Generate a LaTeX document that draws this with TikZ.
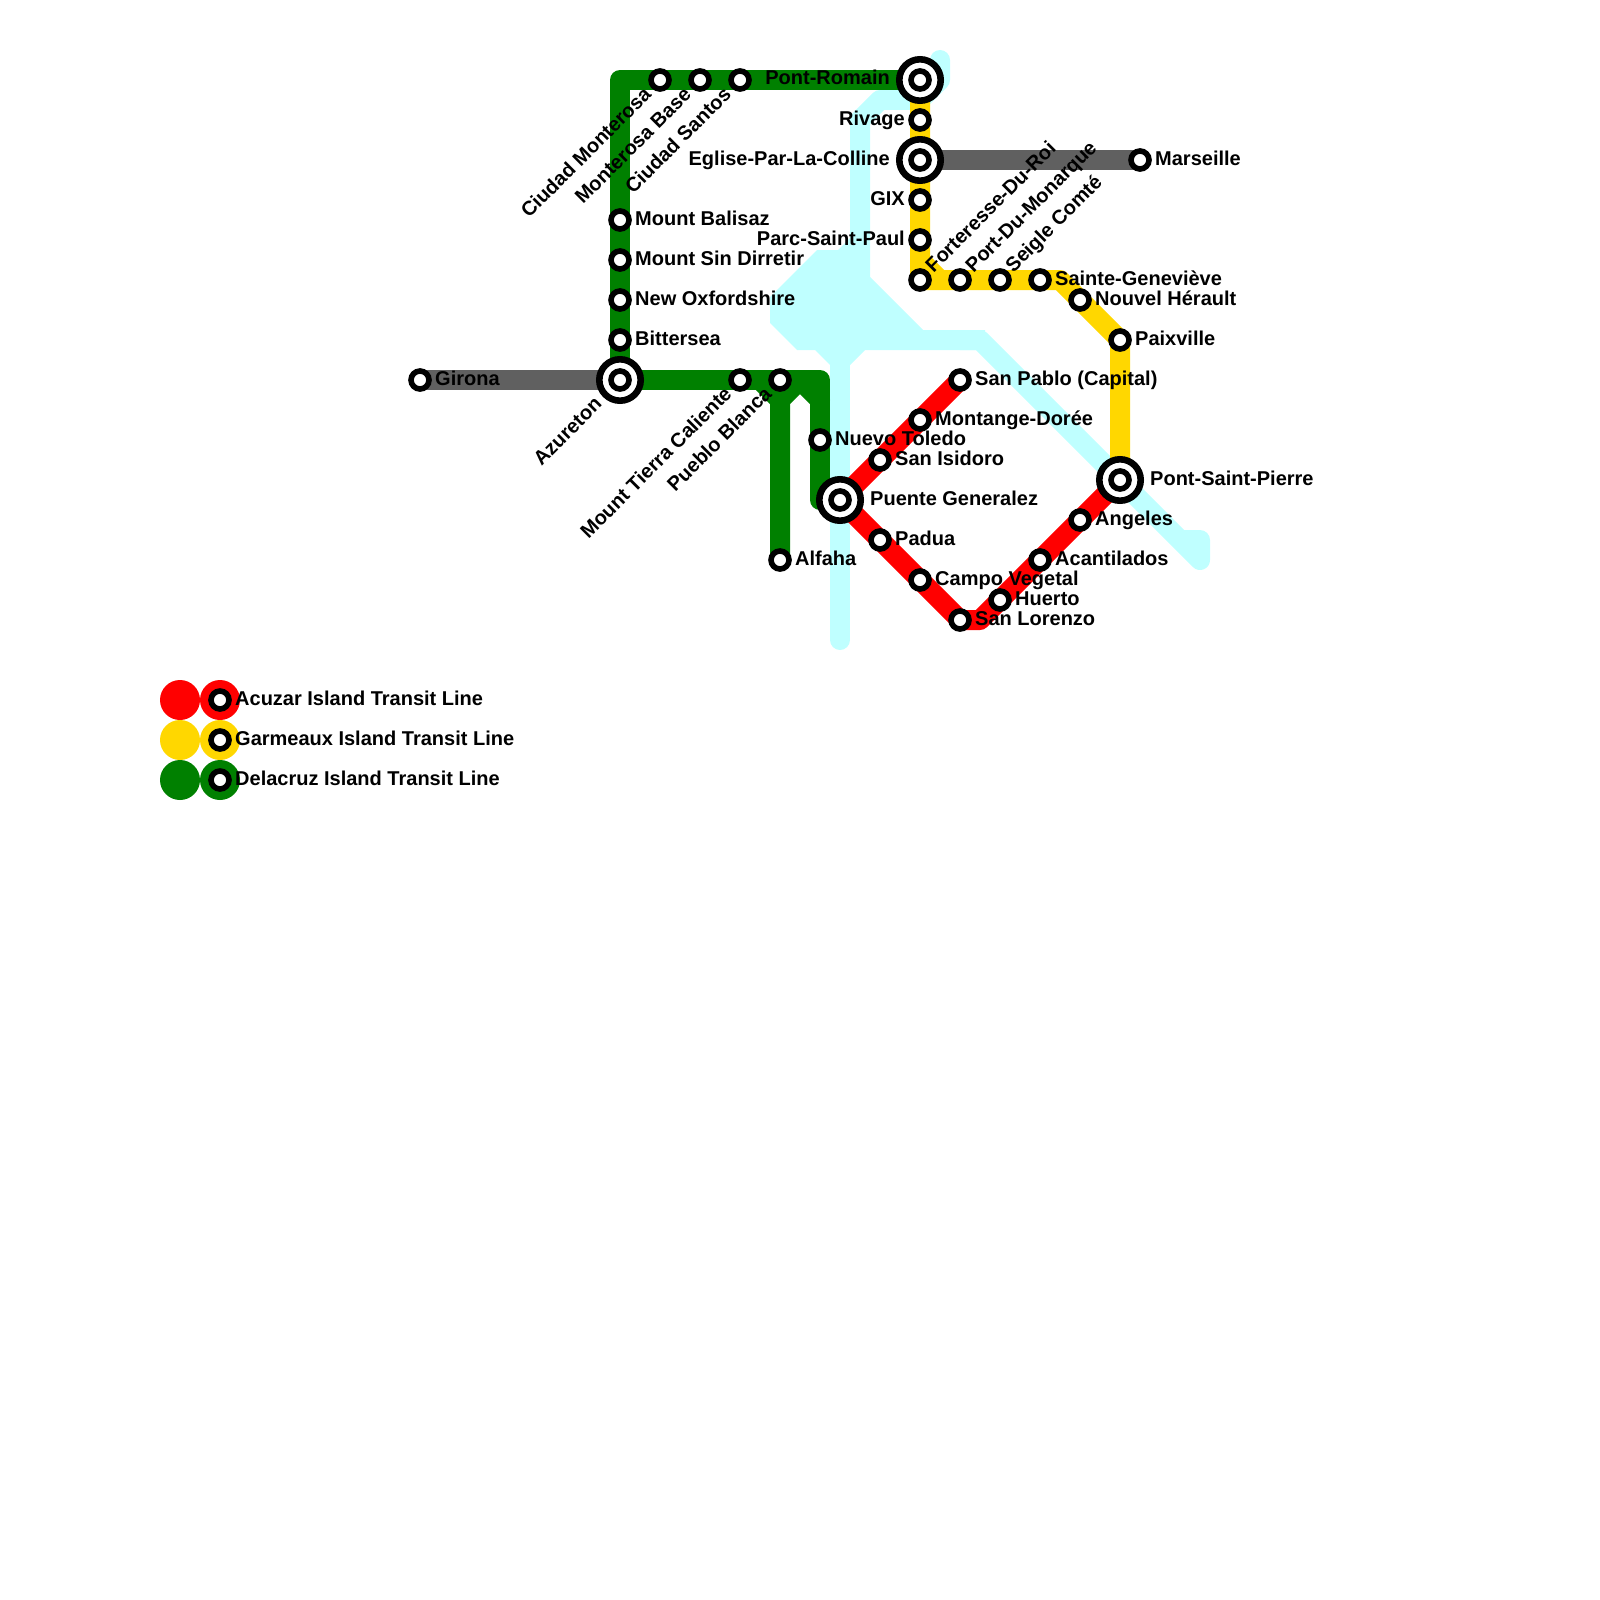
\documentclass[tikz,border=0pt]{standalone}
\usepackage{fontspec}
\setmainfont{Liberation Sans}
\definecolor{river}{HTML}{BFFFFF}
\definecolor{lred}{HTML}{FF0000}
\definecolor{lyellow}{HTML}{FFD700}
\definecolor{lgreen}{HTML}{008000}
\definecolor{lgray}{HTML}{606060}
\tikzset{
  metro/.style={line width=20pt,line join=round,line cap=round},
  riverline/.style={metro,draw=river},
  stn/.style={circle,draw=black,fill=white,line width=5.6pt,minimum size=18pt,inner sep=0pt,outer sep=0pt},
  hub/.style={circle,draw=black,fill=white,line width=6.6pt,minimum size=41.4pt,inner sep=0pt,outer sep=0pt},
  lab/.style={font=\fontsize{20}{20}\selectfont\bfseries,inner sep=0pt,text=black},
  labr/.style={lab,anchor=base west},
  labl/.style={lab,anchor=base east},
  labup/.style={lab,anchor=base west,rotate=45},
  labdn/.style={lab,anchor=base east,rotate=45},
  dot/.style={circle,minimum size=40pt,inner sep=0pt,outer sep=0pt},
}
\newcommand\stnat[3]{\node[stn] (#1) at (#2,#3) {};}
\newcommand\hubat[3]{\node[hub] (#1) at (#2,#3) {}; \node[stn] (#1i) at (#2,#3) {};}
\begin{document}
\begin{tikzpicture}[x=1pt,y=-1pt]
\useasboundingbox (0,0) rectangle (1600,1600);
% river
\fill[river] (817,250) -- (838,250) -- (850,238) -- (870,277) -- (923,330) -- (985,330) -- (985,350) -- (865,350) -- (850,365) -- (830,365) -- (815,350) -- (797,350) -- (770,323) -- (770,297) -- cycle;
\draw[riverline] (940,60) -- (940,80) -- (920,100) -- (880,100) -- (860,120) -- (860,280);
\draw[riverline] (840,350) -- (840,640);
\draw[riverline] (960,340) -- (980,340) -- (1180,540) -- (1200,540) -- (1200,560) -- (1180,540);
% bend points of the lines
\coordinate (g1) at (620,80);
\coordinate (g2) at (820,380);
\coordinate (g3) at (820,500);
\coordinate (g4) at (800,380);
\coordinate (g5) at (820,400);
\coordinate (g6) at (780,400);
\coordinate (y1) at (920,260);
\coordinate (y2) at (940,280);
\coordinate (y3) at (1060,280);
\coordinate (r1) at (980,620);
\coordinate (cPR) at (920,80);
\coordinate (cEG) at (920,160);
\coordinate (cFO) at (920,280);
\coordinate (cPA) at (1120,340);
\coordinate (cPSP) at (1120,480);
\coordinate (cMA) at (1140,160);
\coordinate (cSP) at (960,380);
\coordinate (cPG) at (840,500);
\coordinate (cSL) at (960,620);
\coordinate (cAZ) at (620,380);
\coordinate (cGI) at (420,380);
\coordinate (cPB2) at (760,380);
\coordinate (cAL) at (780,560);
% lines
\draw[metro,lgray] (cGI) -- (cAZ);
\draw[metro,lgray] (cEG) -- (cMA);
\draw[metro,lgreen] (cAZ) -- (g1) -- (cPR);
\draw[metro,lgreen] (cAZ) -- (g2) -- (g3) -- (cPG);
\draw[metro,lgreen] (g4) -- (g6) -- (cAL);
\draw[metro,lgreen] (cPB2) -- (g6);
\draw[metro,lgreen] (g4) -- (g5);
\draw[metro,lyellow] (cPR) -- (cFO) -- (y3) -- (cPA) -- (cPSP);
\draw[metro,lyellow] (y1) -- (y2);
\draw[metro,lred] (cSP) -- (cPG) -- (cSL) -- (r1) -- (cPSP);
% legend swatches
\node[dot,fill=lred] (k1) at (180,700) {};
\node[dot,fill=lred] (k1b) at (220,700) {};
\node[dot,fill=lyellow] (k2) at (180,740) {};
\node[dot,fill=lyellow] (k2b) at (220,740) {};
\node[dot,fill=lgreen] (k3) at (180,780) {};
\node[dot,fill=lgreen] (k3b) at (220,780) {};
\stnat{k1s}{220}{700}\stnat{k2s}{220}{740}\stnat{k3s}{220}{780}
% stations
\hubat{PontRomain}{920}{80}
\stnat{Rivage}{920}{120}
\hubat{Eglise}{920}{160}
\stnat{GIX}{920}{200}
\stnat{ParcSP}{920}{240}
\stnat{Forteresse}{920}{280}
\stnat{PortM}{960}{280}
\stnat{Seigle}{1000}{280}
\stnat{SainteG}{1040}{280}
\stnat{Nouvel}{1080}{300}
\stnat{Paixville}{1120}{340}
\hubat{PontSP}{1120}{480}
\stnat{Marseille}{1140}{160}
\stnat{Angeles}{1080}{520}
\stnat{Acantilados}{1040}{560}
\stnat{Huerto}{1000}{600}
\stnat{SanLorenzo}{960}{620}
\stnat{Campo}{920}{580}
\stnat{Padua}{880}{540}
\hubat{Puente}{840}{500}
\stnat{SanIsidoro}{880}{460}
\stnat{Montange}{920}{420}
\stnat{SanPablo}{960}{380}
\stnat{Nuevo}{820}{440}
\stnat{Alfaha}{780}{560}
\stnat{Pueblo}{780}{380}
\stnat{MountT}{740}{380}
\hubat{Azureton}{620}{380}
\stnat{Girona}{420}{380}
\stnat{Bittersea}{620}{340}
\stnat{NewOx}{620}{300}
\stnat{MtSin}{620}{260}
\stnat{Balisaz}{620}{220}
\stnat{Ciudad}{660}{80}
\stnat{Monterosa}{700}{80}
\stnat{Santos}{740}{80}
% labels
\node[labl] (tPR) at (890,85) {Pont-Romain};
\node[labl] (tRI) at (905,125) {Rivage};
\node[labl] (tEG) at (890,165) {Eglise-Par-La-Colline};
\node[labl] (tGI) at (905,205) {GIX};
\node[labl] (tPS) at (905,245) {Parc-Saint-Paul};
\node[labup] (tFO) at (933.5,273.5) {Forteresse-Du-Roi};
\node[labup] (tPM) at (973.5,273.5) {Port-Du-Monarque};
\node[labup] (tSC) at (1013.5,273.5) {Seigle Comté};
\node[labr] (tSG) at (1055,285) {Sainte-Geneviève};
\node[labr] (tNH) at (1095,305) {Nouvel Hérault};
\node[labr] (tPX) at (1135,345) {Paixville};
\node[labr] (tPSP) at (1150,485) {Pont-Saint-Pierre};
\node[labr] (tMA) at (1155,165) {Marseille};
\node[labr] (tAN) at (1095,525) {Angeles};
\node[labr] (tAC) at (1055,565) {Acantilados};
\node[labr] (tHU) at (1015,605) {Huerto};
\node[labr] (tSL) at (975,625) {San Lorenzo};
\node[labr] (tCV) at (935,585) {Campo Vegetal};
\node[labr] (tPD) at (895,545) {Padua};
\node[labr] (tPG) at (870,505) {Puente Generalez};
\node[labr] (tSI) at (895,465) {San Isidoro};
\node[labr] (tMD) at (935,425) {Montange-Dorée};
\node[labr] (tSP) at (975,385) {San Pablo (Capital)};
\node[labr] (tNT) at (835,445) {Nuevo Toledo};
\node[labr] (tAL) at (795,565) {Alfaha};
\node[labdn] (tPB) at (773,395) {Pueblo Blanca};
\node[labdn] (tMT) at (733,395) {Mount Tierra Caliente};
\node[labdn] (tAZ) at (603,405) {Azureton};
\node[labr] (tGR) at (435,385) {Girona};
\node[labr] (tBI) at (635,345) {Bittersea};
\node[labr] (tNO) at (635,305) {New Oxfordshire};
\node[labr] (tMS) at (635,265) {Mount Sin Dirretir};
\node[labr] (tMB) at (635,225) {Mount Balisaz};
\node[labdn] (tCM) at (652.5,95.5) {Ciudad Monterosa};
\node[labdn] (tMB2) at (692.5,95.5) {Monterosa Base};
\node[labdn] (tCS) at (732.5,95.5) {Ciudad Santos};
\node[labr] (tK1) at (235,705) {Acuzar Island Transit Line};
\node[labr] (tK2) at (235,745) {Garmeaux Island Transit Line};
\node[labr] (tK3) at (235,785) {Delacruz Island Transit Line};
\end{tikzpicture}
\end{document}
